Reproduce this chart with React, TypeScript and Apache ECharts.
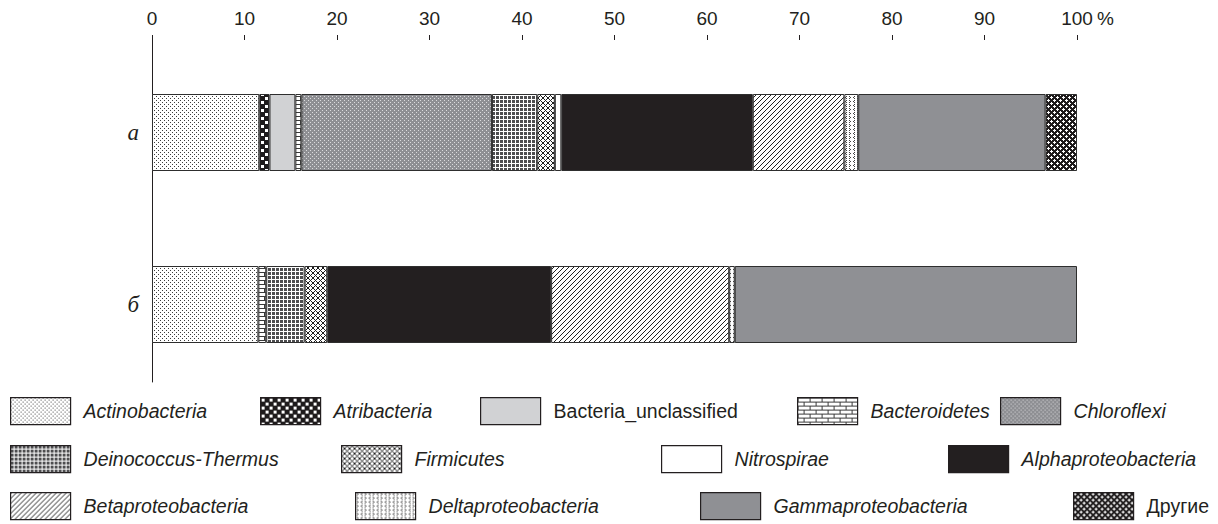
import React, { useEffect, useRef } from "react";
import * as echarts from "echarts";

const categories = ["а", "б"];
const seriesNames = [
  "Actinobacteria",
  "Atribacteria",
  "Bacteria_unclassified",
  "Bacteroidetes",
  "Chloroflexi",
  "Deinococcus-Thermus",
  "Firmicutes",
  "Nitrospirae",
  "Alphaproteobacteria",
  "Betaproteobacteria",
  "Deltaproteobacteria",
  "Gammaproteobacteria",
  "Другие",
];
const actinobacteria = [11.6, 11.5];
const atribacteria = [1.1, null];
const bacteriaUnclassified = [2.8, null];
const bacteroidetes = [0.65, 0.85];
const chloroflexi = [20.6, null];
const deinococcus = [4.9, 4.15];
const firmicutes = [1.9, 2.45];
const nitrospirae = [0.7, null];
const alphaproteobacteria = [20.7, 24.2];
const betaproteobacteria = [9.9, 19.25];
const deltaproteobacteria = [1.5, 0.6];
const gammaproteobacteria = [20.25, 37.0];
const others = [3.4, null];
const seriesValues = [
  actinobacteria,
  atribacteria,
  bacteriaUnclassified,
  bacteroidetes,
  chloroflexi,
  deinococcus,
  firmicutes,
  nitrospirae,
  alphaproteobacteria,
  betaproteobacteria,
  deltaproteobacteria,
  gammaproteobacteria,
  others,
];
const xTicks = [0, 10, 20, 30, 40, 50, 60, 70, 80, 90, 100];

// legend layout: [left, top] of each icon
const legendPos: [number, number][] = [
  [10, 397],
  [260, 397],
  [480, 397],
  [797, 397],
  [1000, 397],
  [10, 445],
  [341, 445],
  [661, 445],
  [948, 445],
  [10, 492],
  [355, 492],
  [700, 492],
  [1073, 492],
];

type PixFn = (x: number, y: number) => boolean;
function tile(w: number, h: number, bg: string, fg: string, fn: PixFn) {
  const c = document.createElement("canvas");
  c.width = w;
  c.height = h;
  const ctx = c.getContext("2d")!;
  ctx.fillStyle = bg;
  ctx.fillRect(0, 0, w, h);
  ctx.fillStyle = fg;
  for (let y = 0; y < h; y++)
    for (let x = 0; x < w; x++) if (fn(x, y)) ctx.fillRect(x, y, 1, 1);
  return {
    image: c.toDataURL(),
    imageWidth: w,
    imageHeight: h,
    repeat: "repeat",
  } as any;
}

function buildFills() {
  const plusAt = (cx: number, cy: number) => (x: number, y: number) =>
    (x === cx && Math.abs(y - cy) <= 1) || (y === cy && Math.abs(x - cx) <= 1);
  const p1 = plusAt(1, 1);
  const p2 = plusAt(4, 4);
  const chevron: PixFn = (x, y) =>
    (y === 0 && x === 1) || (y === 1 && x === 2) || (y === 2 && x === 1) ||
    (y === 0 && x === 6) || (y === 1 && x === 5) || (y === 2 && x === 6);
  return [
    tile(4, 4, "#ffffff", "#3c3c3c", (x, y) => (x === 0 && y === 0) || (x === 2 && y === 2)),
    tile(8, 8, "#1e1b1c", "#ffffff", (x, y) =>
      (x >= 1 && x <= 3 && y >= 1 && y <= 3) || (x >= 5 && x <= 7 && y >= 5 && y <= 7)
    ),
    "#d1d2d4",
    tile(12, 8, "#ffffff", "#3a3a3a", (x, y) =>
      y === 0 || y === 4 || (x === 0 && y < 4) || (x === 6 && y >= 4)
    ),
    tile(4, 4, "#8e8f93", "#dcdcde", (x, y) => (x === 0 && y === 0) || (x === 2 && y === 2)),
    tile(4, 4, "#4d4d4f", "#ffffff", (x, y) => x === 3 || y === 3),
    tile(5, 5, "#ffffff", "#1e1e1e", (x, y) => (x + y) % 5 === 0 || (x - y + 5) % 5 === 0),
    "#ffffff",
    "#231f20",
    tile(5, 5, "#ffffff", "#222222", (x, y) => (x + y) % 5 === 0),
    tile(8, 4, "#ffffff", "#444444", chevron),
    "#8f9094",
    tile(6, 6, "#1e1b1c", "#ffffff", (x, y) => p1(x, y) || p2(x, y)),
  ];
}

export default function App() {
  const ref = useRef<HTMLDivElement>(null);
  useEffect(() => {
    if (!ref.current) return;
    const chart = echarts.init(ref.current, null, { renderer: "svg" });
    const fills = buildFills();
    const textColor = "#231f20";
    const sans = "Liberation Sans, Arial, sans-serif";
    const series = seriesNames.map((name, i) => ({
      name,
      type: "bar",
      stack: "total",
      xAxisIndex: 0,
      yAxisIndex: 0,
      barWidth: 77,
      data: seriesValues[i],
      itemStyle: { color: fills[i], borderColor: "#2e2e2e", borderWidth: 1 },
      emphasis: { disabled: true },
    }));
    const legends = seriesNames.map((name, i) => ({
      show: true,
      data: [name],
      left: legendPos[i][0],
      top: legendPos[i][1],
      padding: 0,
      itemWidth: 60,
      itemHeight: 27,
      icon: "rect",
      selectedMode: false,
      itemStyle: { borderColor: "#231f20", borderWidth: 1.2 },
      textStyle: {
        fontFamily: sans,
        fontStyle: name === "Bacteria_unclassified" || name === "Другие" ? "normal" : "italic",
        fontSize: 19.5,
        color: textColor,
        padding: [0, 0, 0, 8],
      },
    }));
    chart.setOption({
      animation: false,
      backgroundColor: "#ffffff",
      grid: [
        { left: 152, right: 141, top: 46.5, bottom: 133.5 },
        { left: 152, right: 141, top: 40, bottom: 142 },
      ],
      xAxis: [
        {
          type: "value",
          gridIndex: 0,
          position: "top",
          offset: 6.5,
          min: 0,
          max: 100,
          interval: 10,
          axisLine: { show: false },
          axisTick: { show: true, length: 5, lineStyle: { color: textColor, width: 1 } },
          splitLine: { show: false },
          axisLabel: {
            margin: 12,
            color: textColor,
            fontFamily: sans,
            fontSize: 19,
            formatter: (v: number) => (xTicks.includes(v) ? String(v) : ""),
          },
        },
        { type: "value", gridIndex: 1, show: false, min: 0, max: 1 },
      ],
      yAxis: [
        {
          type: "category",
          gridIndex: 0,
          inverse: true,
          data: categories,
          axisLine: { show: false },
          axisTick: { show: false },
          axisLabel: {
            margin: 13,
            color: textColor,
            fontFamily: "Liberation Serif, Times New Roman, serif",
            fontStyle: "italic",
            fontSize: 23,
          },
        },
        {
          type: "value",
          gridIndex: 1,
          min: 0,
          max: 1,
          axisLine: { show: true, lineStyle: { color: textColor, width: 1 } },
          axisTick: { show: false },
          axisLabel: { show: false },
          splitLine: { show: false },
        },
      ],
      legend: legends,
      graphic: [
        {
          type: "text",
          x: 1097,
          y: 18,
          style: {
            text: "%",
            fill: textColor,
            font: "19px Liberation Sans, Arial, sans-serif",
            textVerticalAlign: "middle",
          },
        },
      ],
      series,
    });
    return () => chart.dispose();
  }, []);
  return <div ref={ref} style={{ width: 1218, height: 524, position: "absolute", left: 0, top: 0 }} />;
}
